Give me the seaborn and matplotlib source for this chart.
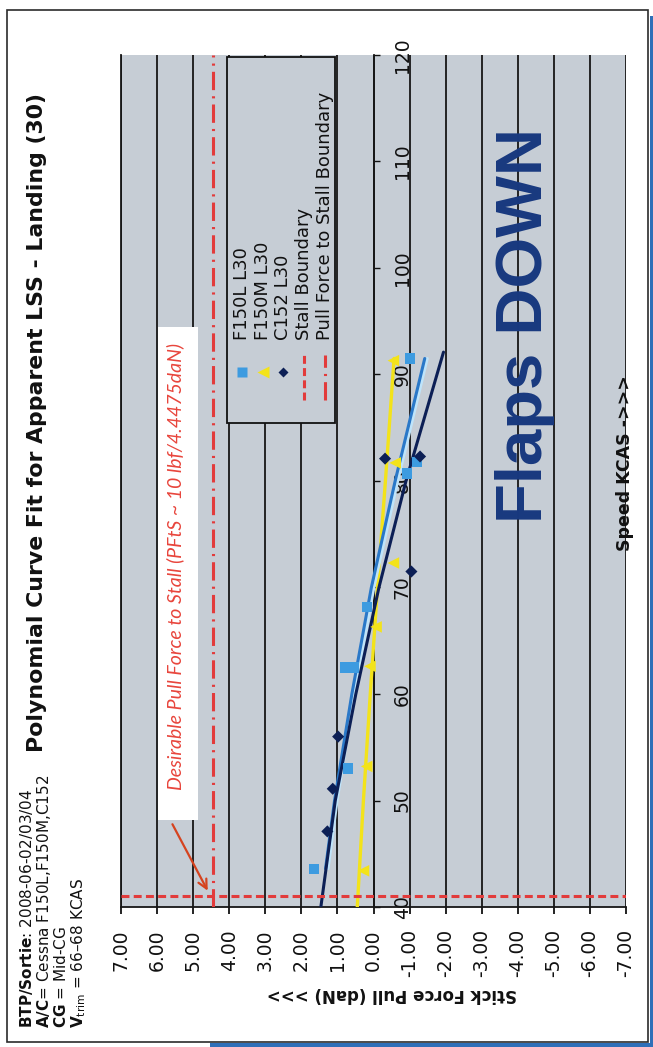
import matplotlib
matplotlib.use("Agg")
import matplotlib.pyplot as plt
import matplotlib.patheffects as pe
from matplotlib.patches import Rectangle
import seaborn as sns

# ---- flight-test samples: speed (KCAS) vs stick pull force (daN) ----
f150l_speed = [43.6, 53.0, 62.5, 62.5, 68.2, 80.7, 81.8, 91.5]
f150l_force = [1.65, 0.70, 0.78, 0.55, 0.19, -0.92, -1.20, -1.01]
f150m_speed = [43.4, 53.2, 62.6, 66.3, 72.3, 81.7, 91.3]
f150m_force = [0.28, 0.19, 0.10, -0.07, -0.55, -0.60, -0.55]
c152_speed = [47.1, 51.1, 56.0, 71.5, 82.1, 82.3]
c152_force = [1.28, 1.13, 0.98, -1.05, -0.32, -1.29]

# ---- polynomial trend curves (speed, force) ----
f150l_fit_speed = [43.6, 50, 60, 70, 80, 91.5]
f150l_fit_force = [1.33, 1.08, 0.60, 0.06, -0.60, -1.42]
f150m_fit_speed = [40, 50, 60, 70, 80, 91.5]
f150m_fit_force = [0.45, 0.28, 0.09, -0.11, -0.33, -0.57]
c152_fit_speed = [40, 50, 60, 70, 80, 92.1]
c152_fit_force = [1.46, 1.06, 0.49, -0.15, -0.90, -1.94]

# ---- boundaries ----
stall_speed = 41.0          # KCAS
pfts_force = 4.4475         # daN (10 lbf)

force_ticks = [7, 6, 5, 4, 3, 2, 1, 0, -1, -2, -3, -4, -5, -6, -7]
speed_ticks = [40, 50, 60, 70, 80, 90, 100, 110, 120]

title = "Polynomial Curve Fit for Apparent LSS - Landing (30)"
info_lines = [
    r"$\mathbf{BTP/Sortie}$: 2008-06-02/03/04",
    r"$\mathbf{A/C}$= Cessna F150L,F150M,C152",
    r"$\mathbf{CG}$ = Mid-CG",
    r"$\mathbf{V}_{\mathrm{trim}}$ = 66–68 KCAS",
]
legend_labels = ["F150L L30", "F150M L30", "C152 L30",
                 "Stall Boundary", "Pull Force to Stall Boundary"]

C_F150L = "#3d9be0"
C_F150L_FIT = "#2a78c8"
C_F150M = "#f3e31a"
C_C152 = "#0c1f55"
C_RED = "#e23b3b"
C_BG = "#c6cdd5"
C_NAVY = "#18397f"

sns.set_theme(style="white")
plt.rcParams["font.family"] = ["DejaVu Sans"]
plt.rcParams["mathtext.fontset"] = "dejavusans"

fig = plt.figure(figsize=(6.53, 10.47), dpi=100)
fig.patch.set_facecolor("white")
ax = fig.add_axes([0.1853, 0.1337, 0.7734, 0.8138])
ax.set_facecolor(C_BG)

# trend curves
sns.lineplot(x=f150m_fit_force, y=f150m_fit_speed, sort=False, estimator=None,
             color=C_F150M, lw=2.4, ax=ax, zorder=3)
sns.lineplot(x=f150l_fit_force, y=f150l_fit_speed, sort=False, estimator=None,
             color=C_F150L_FIT, lw=2.2, ax=ax, zorder=3,
             path_effects=[pe.SimpleLineShadow(offset=(1.8, 0), shadow_color="#bfe4fa",
                                               alpha=1, rho=1), pe.Normal()])
sns.lineplot(x=c152_fit_force, y=c152_fit_speed, sort=False, estimator=None,
             color=C_C152, lw=2.2, ax=ax, zorder=3)

# samples
sns.scatterplot(x=f150l_force, y=f150l_speed, marker="s", s=55, color=C_F150L,
                edgecolor="none", ax=ax, zorder=4)
sns.scatterplot(x=f150m_force, y=f150m_speed, marker="<", s=70, color=C_F150M,
                edgecolor="none", ax=ax, zorder=4)
sns.scatterplot(x=c152_force, y=c152_speed, marker="D", s=38, color=C_C152,
                edgecolor="none", ax=ax, zorder=5)

# boundaries
ax.axhline(stall_speed, color=C_RED, lw=2.2, ls=(0, (2.6, 1.4)), zorder=3)
ax.axvline(pfts_force, color=C_RED, lw=2.2, ls=(0, (6, 2, 0.7, 2)), zorder=3)

# axes
ax.set_xlim(7, -7)
ax.set_ylim(40, 120)
ax.set_xticks(force_ticks)
ax.set_xticklabels([f"{v:.2f}" for v in force_ticks], rotation=90)
ax.grid(axis="x", color="#161616", lw=1.3, zorder=1)
ax.grid(axis="y", visible=False)
ax.set_axisbelow(True)

ax.yaxis.tick_right()
ax.spines["right"].set_position(("data", 0))
ax.set_yticks(speed_ticks)
ax.set_yticklabels([str(v) for v in speed_ticks], rotation=90)
plt.setp(ax.get_yticklabels(), va="center")
ax.tick_params(axis="y", which="both", direction="out", length=4, width=1,
               pad=10, labelsize=13.5, right=True, left=False, colors="#111111")
ax.tick_params(axis="x", direction="out", length=5, width=1.3, pad=11,
               labelsize=13.5, bottom=True, top=False, colors="#111111")
for side in ["left", "bottom", "right"]:
    ax.spines[side].set_color("#161616")
    ax.spines[side].set_linewidth(1.3)
    ax.spines[side].set_visible(True)
ax.spines["top"].set_visible(False)

ax.set_xlabel("Stick Force Pull (daN) >>>", rotation=180, fontsize=12,
              fontweight="bold", color="#111111")
ax.xaxis.set_label_coords(0.537, -0.102)
ax.xaxis.label.set_va("center")
ax.yaxis.set_label_position("right")
ax.set_ylabel("Speed KCAS ->>>", rotation=90, fontsize=12.5, fontweight="bold",
              color="#111111")
ax.yaxis.set_label_coords(0.998, 0.521)
ax.yaxis.label.set_va("center")
ax.yaxis.label.set_ha("center")

# flaps configuration tag
ax.text(-4.2, 94.6, "Flaps DOWN", rotation=90, ha="center", va="center",
        fontsize=47, fontweight="bold", family="Liberation Sans", color=C_NAVY, zorder=6)

# desirable pull-force note with arrow
ax.add_patch(Rectangle((0.0733, 0.102), 0.0792, 0.579, transform=ax.transAxes,
                       fc="white", ec="none", zorder=5))
ax.text(5.5, 72, "Desirable Pull Force to Stall (PFtS ~ 10 lbf/4.4475daN)",
        rotation=90, ha="center", va="center", fontsize=14, family="Lato",
        style="italic", color="#e8453c", zorder=6)
ax.annotate("", xy=(4.56, 41.3), xytext=(5.61, 48.0),
            arrowprops=dict(arrowstyle="->", color="#d5431f", lw=1.6,
                            mutation_scale=16), zorder=6)

# legend box
ax.add_patch(Rectangle((0.21, 0.568), 0.214, 0.43, transform=ax.transAxes,
                       fc=C_BG, ec="#111111", lw=1.3, zorder=7))
cols = [0.2396, 0.2812, 0.3208, 0.3624, 0.404]
handles = [
    dict(marker="s", color=C_F150L, ms=6.5),
    dict(marker="<", color=C_F150M, ms=8),
    dict(marker="D", color=C_C152, ms=5.5),
    dict(ls=(0, (2.6, 1.4)), color=C_RED, lw=2.2),
    dict(ls=(0, (6, 2, 0.7, 2)), color=C_RED, lw=2.2),
]
for col, lab, h in zip(cols, legend_labels, handles):
    if "marker" in h:
        ax.plot([col], [0.628], transform=ax.transAxes, ls="none",
                mec="none", zorder=8, clip_on=False, **h)
    else:
        ax.plot([col, col], [0.595, 0.648], transform=ax.transAxes,
                zorder=8, clip_on=False, **h)
    ax.text(col, 0.6655, lab, transform=ax.transAxes, rotation=90,
            rotation_mode="anchor", ha="left", va="center", fontsize=13,
            color="#111111", zorder=8)

# title and test info
fig.text(0.0574, 0.2818, title, rotation=90, rotation_mode="anchor", ha="left",
         va="center", fontsize=15.8, fontweight="bold", color="#111111")
for xpos, line in zip([0.0413, 0.0674, 0.0934, 0.1210], info_lines):
    fig.text(xpos, 0.0181, line, rotation=90, rotation_mode="anchor", ha="left",
             va="center", fontsize=11, color="#111111")

# page frame and the blue page edge around it
fig.add_artist(Rectangle((0.0107, 0.0048), 0.9816, 0.9856, transform=fig.transFigure,
                         fill=False, ec="#2b2b2b", lw=1.2))
fig.add_artist(Rectangle((0.322, 0.0), 0.678, 0.0035, transform=fig.transFigure,
                         fc="#2f6fb8", ec="none"))
fig.add_artist(Rectangle((0.9955, 0.0), 0.0045, 0.985, transform=fig.transFigure,
                         fc="#2f6fb8", ec="none"))

fig.savefig("out.png", dpi=100)
